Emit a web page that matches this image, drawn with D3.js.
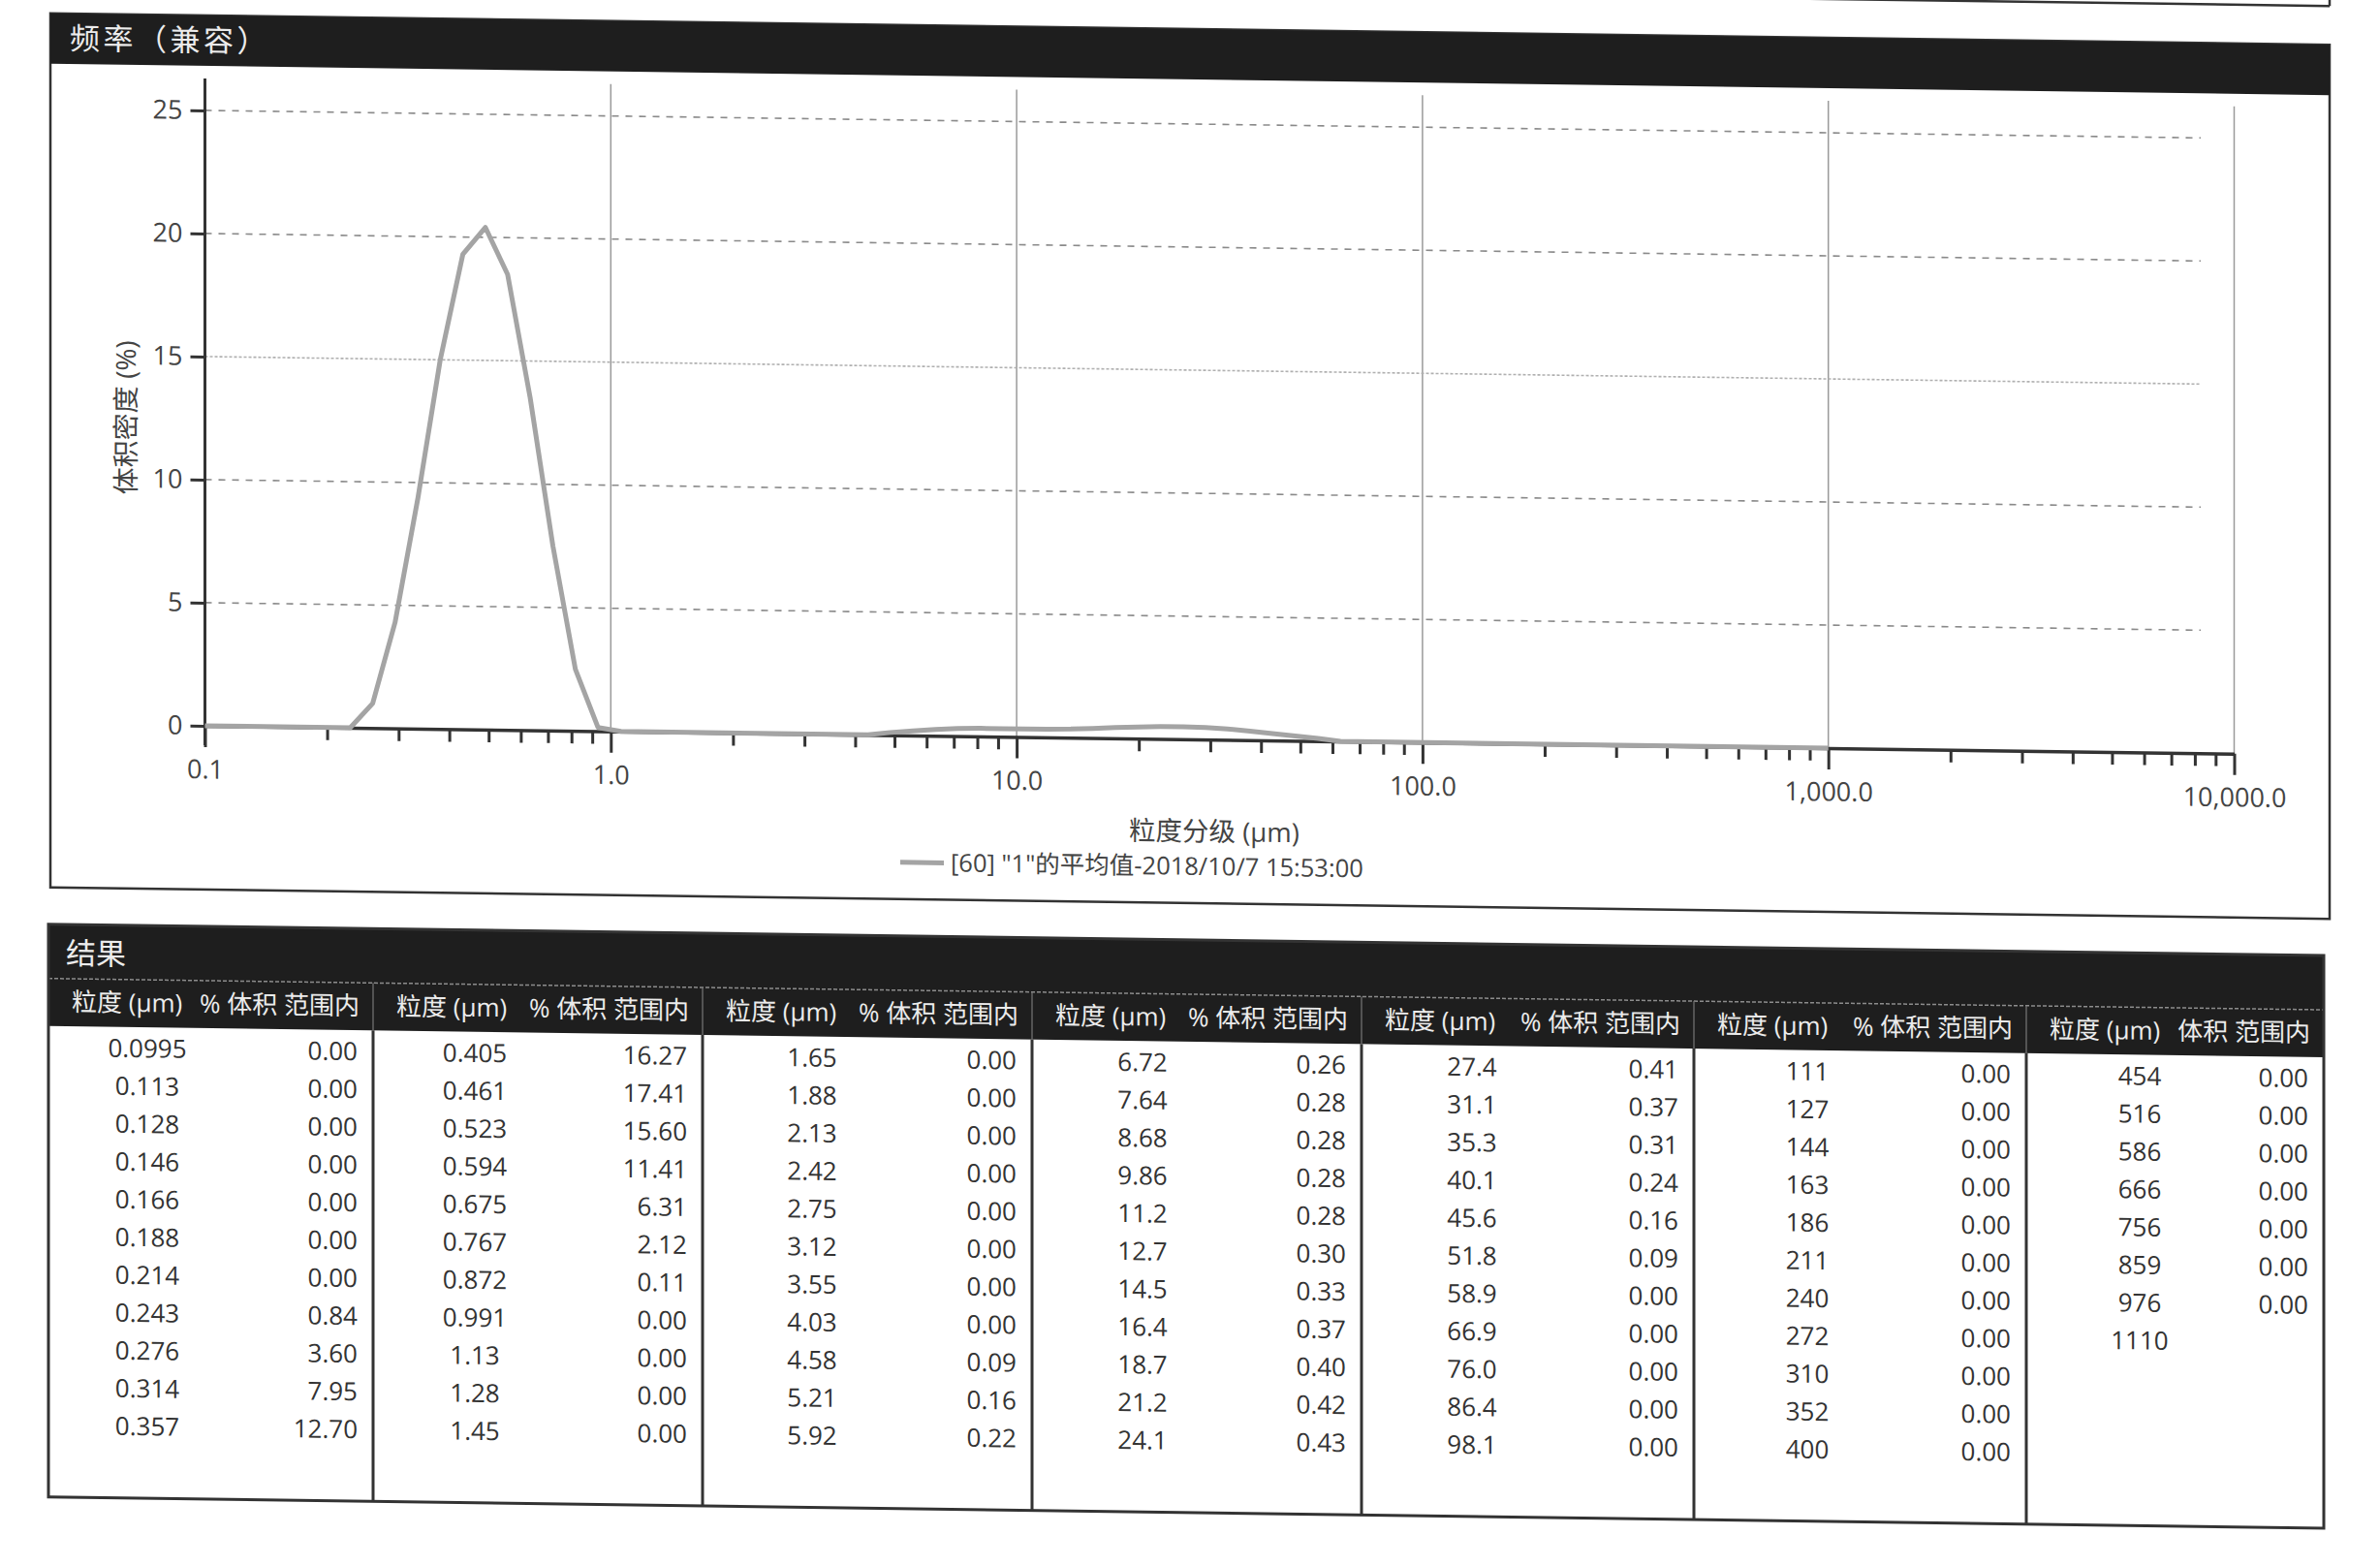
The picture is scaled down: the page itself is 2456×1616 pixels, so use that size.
<!DOCTYPE html>
<html><head><meta charset="utf-8">
<script src="https://cdn.jsdelivr.net/npm/d3@7"></script>
<style>
html,body{margin:0;padding:0;background:#fff;}
svg{display:block;}
text{font-family:"Open Sans","Noto Sans CJK SC",sans-serif;}
</style></head><body>
<svg id="c" width="2456" height="1616"></svg>
<script>
// ---------- data ----------
const chartTitle = "频率（兼容）";
const yAxisTitle = "体积密度 (%)";
const xAxisTitle = "粒度分级 (μm)";
const legendLabel = "[60] \"1\"的平均值-2018/10/7 15:53:00";
const xMajorTicks = [0.1, 1, 10, 100, 1000, 10000];
const xTickLabels = ["0.1", "1.0", "10.0", "100.0", "1,000.0", "10,000.0"];
const yTicks = [0, 5, 10, 15, 20, 25];
// curve (size in μm, volume density %)
const curveSize = [0.1, 0.228, 0.259, 0.294, 0.335, 0.380, 0.432, 0.491, 0.557, 0.633, 0.720, 0.818, 0.930, 1.06,
  4.30, 4.88, 5.55, 6.31, 7.16, 8.14, 9.25, 10.5, 11.9, 13.6, 15.4, 17.5, 19.9, 22.6, 25.7, 29.2, 33.1, 37.6, 42.7, 48.6, 55.3, 62.8, 1000];
const curveDensity = [0, 0, 1.0, 4.3, 9.4, 15.0, 19.3, 20.4, 18.5, 13.5, 7.5, 2.5, 0.15, 0,
  0, 0.11, 0.19, 0.26, 0.31, 0.33, 0.33, 0.33, 0.33, 0.35, 0.39, 0.44, 0.47, 0.50, 0.51, 0.49, 0.44, 0.37, 0.28, 0.19, 0.11, 0, 0];
// results table
const tableTitle = "结果";
const colSizeHeader = "粒度 (μm)";
const colPctHeader = "% 体积 范围内";
const colPctHeaderLast = "体积 范围内";
const binSize = ["0.0995","0.113","0.128","0.146","0.166","0.188","0.214","0.243","0.276","0.314","0.357",
  "0.405","0.461","0.523","0.594","0.675","0.767","0.872","0.991","1.13","1.28","1.45",
  "1.65","1.88","2.13","2.42","2.75","3.12","3.55","4.03","4.58","5.21","5.92",
  "6.72","7.64","8.68","9.86","11.2","12.7","14.5","16.4","18.7","21.2","24.1",
  "27.4","31.1","35.3","40.1","45.6","51.8","58.9","66.9","76.0","86.4","98.1",
  "111","127","144","163","186","211","240","272","310","352","400",
  "454","516","586","666","756","859","976","1110"];
const binPct = [0,0,0,0,0,0,0,0.84,3.60,7.95,12.70,
  16.27,17.41,15.60,11.41,6.31,2.12,0.11,0,0,0,0,
  0,0,0,0,0,0,0,0,0.09,0.16,0.22,
  0.26,0.28,0.28,0.28,0.28,0.30,0.33,0.37,0.40,0.42,0.43,
  0.41,0.37,0.31,0.24,0.16,0.09,0,0,0,0,0,
  0,0,0,0,0,0,0,0,0,0,0,
  0,0,0,0,0,0,0];

// ---------- layout ----------
const svg = d3.select("#c");
const root = svg.append("g").attr("transform", "skewY(0.79)");
const dark = "#1e1e1e", lineCol = "#333", gridCol = "#9a9a9a", txt = "#444";

// previous panel fragment
root.append("line").attr("x1", 52).attr("x2", 2404).attr("y1", -27).attr("y2", -27).attr("stroke", lineCol).attr("stroke-width", 2.5);
root.append("line").attr("x1", 2404).attr("x2", 2404).attr("y1", -80).attr("y2", -27).attr("stroke", lineCol).attr("stroke-width", 2.5);

// chart panel
root.append("rect").attr("x", 52).attr("y", 13).attr("width", 2352).attr("height", 902)
  .attr("fill", "none").attr("stroke", lineCol).attr("stroke-width", 2.5);
root.append("rect").attr("x", 52).attr("y", 13).attr("width", 2352).attr("height", 52).attr("fill", dark);
root.append("text").attr("x", 72).attr("y", 39).attr("dy", "0.35em").attr("font-size", 31)
  .attr("font-family", "Noto Sans CJK SC, sans-serif").attr("letter-spacing", 3.5)
  .attr("fill", "#ececec").text(chartTitle);

const x = d3.scaleLog().domain([0.1, 10000]).range([211.5, 2305.5]);
const y = d3.scaleLinear().domain([0, 25]).range([746, 111]);
const gridRight = 2271;

// vertical grid
root.append("g").selectAll("line").data(xMajorTicks.slice(1)).join("line")
  .attr("x1", d => x(d)).attr("x2", d => x(d)).attr("y1", 78).attr("y2", y(0))
  .attr("stroke", gridCol).attr("stroke-width", 1.5);
// horizontal grid
root.append("g").selectAll("line").data(yTicks.slice(1)).join("line")
  .attr("x1", x(0.1)).attr("x2", gridRight).attr("y1", d => y(d)).attr("y2", d => y(d))
  .attr("stroke", d => d === 15 ? "#b0b0b0" : "#8a8a8a")
  .attr("stroke-width", 1.6)
  .attr("stroke-dasharray", d => d === 15 ? "3,2" : "7,7");

// y axis
const yAxis = root.append("g").attr("transform", `translate(${x(0.1)},0)`)
  .call(d3.axisLeft(y).tickValues(yTicks).tickSize(15).tickPadding(8));
yAxis.select(".domain").remove();
yAxis.selectAll(".tick line").attr("stroke", lineCol).attr("stroke-width", 3);
yAxis.selectAll("text").attr("font-size", 27).attr("fill", txt).attr("font-family", "Open Sans, sans-serif");
root.append("line").attr("x1", x(0.1)).attr("x2", x(0.1)).attr("y1", 78).attr("y2", y(0) + 20)
  .attr("stroke", lineCol).attr("stroke-width", 3);

// x axis minor ticks
const minor = [];
for (let e = -1; e < 4; e++) for (let m = 2; m <= 9; m++) minor.push(m * Math.pow(10, e));
root.append("g").attr("transform", `translate(0,${y(0)})`)
  .call(d3.axisBottom(x).tickValues(minor).tickSize(13).tickFormat(""))
  .call(g => g.select(".domain").remove())
  .selectAll(".tick line").attr("stroke", lineCol).attr("stroke-width", 3);
const xAxis = root.append("g").attr("transform", `translate(0,${y(0)})`)
  .call(d3.axisBottom(x).tickValues(xMajorTicks).tickSize(22).tickSizeOuter(0)
    .tickFormat((d, i) => xTickLabels[i]));
xAxis.select(".domain").attr("stroke", lineCol).attr("stroke-width", 3.5);
xAxis.selectAll(".tick line").attr("stroke", lineCol).attr("stroke-width", 3);
xAxis.selectAll("text").attr("y", 45).attr("dy", "0.35em").attr("font-size", 27).attr("fill", txt)
  .attr("font-family", "Open Sans, sans-serif");

// curve
const line = d3.line().x((d, i) => x(curveSize[i])).y(d => y(d));
root.append("path").datum(curveDensity).attr("d", line).attr("fill", "none")
  .attr("stroke", "#a4a4a4").attr("stroke-width", 5).attr("stroke-linejoin", "round");

// axis titles
root.append("text").attr("transform", "translate(130,429) rotate(-90)").attr("text-anchor", "middle")
  .attr("dy", "0.35em").attr("font-size", 28).attr("fill", txt).text(yAxisTitle);
root.append("text").attr("x", 1253).attr("y", 841).attr("text-anchor", "middle").attr("dy", "0.35em")
  .attr("font-size", 27.5).attr("fill", txt).text(xAxisTitle);
// legend
root.append("line").attr("x1", 929).attr("x2", 974).attr("y1", 877).attr("y2", 877)
  .attr("stroke", "#a4a4a4").attr("stroke-width", 5);
root.append("text").attr("x", 981).attr("y", 877).attr("dy", "0.35em").attr("font-size", 25.5)
  .attr("fill", txt).text(legendLabel);

// ---------- table ----------
const seps = [50, 385, 725, 1065, 1405, 1748, 2091, 2398];
const tTop = 953, tHead1 = 1009, tHead2 = 1058, tBot = 1544, rowY0 = 1080, rowStep = 39, rowsPerCol = 11;
root.append("rect").attr("x", seps[0]).attr("y", tTop).attr("width", seps[7] - seps[0]).attr("height", tHead2 - tTop).attr("fill", dark);
root.append("line").attr("x1", seps[0]).attr("x2", seps[7]).attr("y1", tHead1).attr("y2", tHead1)
  .attr("stroke", "#8c8c8c").attr("stroke-width", 1.5).attr("stroke-dasharray", "4,2");
root.append("text").attr("x", 68).attr("y", 983).attr("dy", "0.35em").attr("font-size", 31)
  .attr("font-family", "Noto Sans CJK SC, sans-serif").attr("fill", "#ececec").text(tableTitle);
root.append("rect").attr("x", seps[0]).attr("y", tTop).attr("width", seps[7] - seps[0]).attr("height", tBot - tTop)
  .attr("fill", "none").attr("stroke", lineCol).attr("stroke-width", 3);
// separators
root.append("g").selectAll("line").data(seps.slice(1, 7)).join("line")
  .attr("x1", d => d).attr("x2", d => d).attr("y1", tHead2).attr("y2", tBot)
  .attr("stroke", lineCol).attr("stroke-width", 3);
root.append("g").selectAll("line").data(seps.slice(1, 7)).join("line")
  .attr("x1", d => d).attr("x2", d => d).attr("y1", tHead1).attr("y2", tHead2)
  .attr("stroke", "#777").attr("stroke-width", 1.2);
const sizeCenterOff = [102, 105, 113, 114, 114, 117, 117];
for (let g = 0; g < 7; g++) {
  const L = seps[g], R = seps[g + 1];
  root.append("text").attr("x", L + 24).attr("y", 1033).attr("dy", "0.35em").attr("font-size", 26)
    .attr("fill", "#ececec").text(colSizeHeader);
  root.append("text").attr("x", R - 14).attr("y", 1033).attr("dy", "0.35em").attr("font-size", 26)
    .attr("text-anchor", "end").attr("fill", "#ececec").text(g === 6 ? colPctHeaderLast : colPctHeader);
  const sizes = binSize.slice(g * rowsPerCol, (g + 1) * rowsPerCol);
  const pcts = binPct.slice(g * rowsPerCol, (g + 1) * rowsPerCol);
  const gg = root.append("g");
  gg.selectAll("text.s").data(sizes).join("text").attr("class", "s")
    .attr("x", L + sizeCenterOff[g]).attr("y", (d, i) => rowY0 + i * rowStep).attr("dy", "0.35em")
    .attr("text-anchor", "middle").attr("font-size", 26).attr("fill", "#333").text(d => d);
  gg.selectAll("text.p").data(pcts).join("text").attr("class", "p")
    .attr("x", R - 16).attr("y", (d, i) => rowY0 + i * rowStep).attr("dy", "0.35em")
    .attr("text-anchor", "end").attr("font-size", 26).attr("fill", "#333").text(d => d.toFixed(2));
}
</script></body></html>
